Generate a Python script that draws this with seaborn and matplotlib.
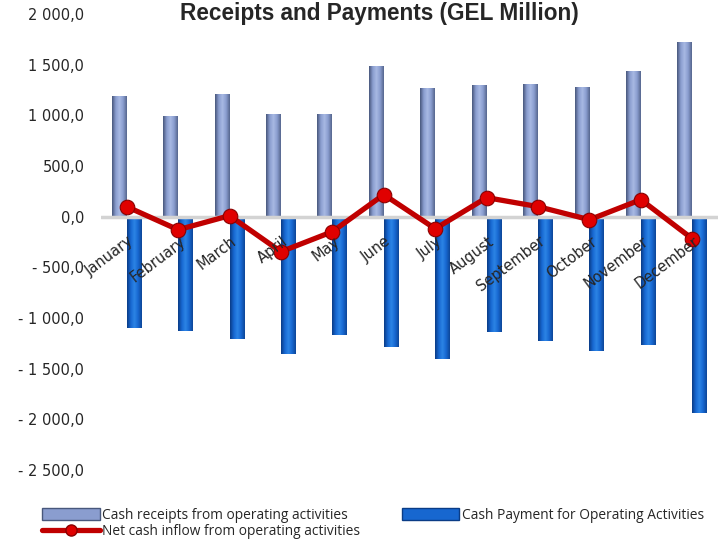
import numpy as np
import pandas as pd
import matplotlib
matplotlib.use("Agg")
import matplotlib.pyplot as plt
from matplotlib.colors import LinearSegmentedColormap
from matplotlib.patches import Patch
from matplotlib.lines import Line2D
import matplotlib.transforms as mtransforms
import seaborn as sns

months = ["January", "February", "March", "April", "May", "June", "July",
          "August", "September", "October", "November", "December"]
receipts = [1188, 990, 1208, 1010, 1010, 1485, 1267, 1297, 1307, 1277, 1436, 1723]
payments = [-1099, -1129, -1208, -1356, -1168, -1287, -1406, -1139, -1228, -1327, -1267, -1941]
net_inflow = [99, -129, 10, -346, -148, 218, -119, 188, 99, -30, 168, -218]

lbl_rec = "Cash receipts from operating activities"
lbl_pay = "Cash Payment for Operating Activities"
lbl_net = "Net cash inflow from operating activities"

df = pd.DataFrame({
    "month": months * 2,
    "series": [lbl_rec] * 12 + [lbl_pay] * 12,
    "value": receipts + payments,
})

sns.set_style("white")
plt.rcParams["font.family"] = ["DejaVu Sans"]

fig = plt.figure(figsize=(7.26, 5.41), dpi=100)
ax = fig.add_axes([101 / 726, 1 - 470 / 541, 617 / 726, 456 / 541])

rec_mid, rec_edge = "#8A9DCF", "#48577C"
pay_mid, pay_edge = "#1767D0", "#0A3C86"

sns.barplot(data=df, x="month", y="value", hue="series", order=months,
            hue_order=[lbl_rec, lbl_pay], palette=[rec_mid, pay_mid],
            width=0.58, dodge=True, ax=ax, legend=False, zorder=2,
            linewidth=0)

# glossy horizontal gradient on every bar
cmaps = {
    0: LinearSegmentedColormap.from_list("rec", [rec_edge, rec_mid, "#A8B9E3", rec_mid, "#56668E"]),
    1: LinearSegmentedColormap.from_list("pay", [pay_edge, pay_mid, "#2C84E6", pay_mid, "#0D4698"]),
}
grad = np.linspace(0, 1, 64).reshape(1, -1)
for k, cont in enumerate(ax.containers):
    for p in cont:
        x0, y0 = p.get_xy()
        w, h = p.get_width(), p.get_height()
        im = ax.imshow(grad, cmap=cmaps[k], extent=[x0, x0 + w, y0, y0 + h],
                       aspect="auto", zorder=2.1, interpolation="bilinear")
        im.set_clip_path(p)

# zero line
ax.axhline(0, color="#D3D3D3", lw=2.5, zorder=1.5)

# net inflow line
sns.pointplot(x=months, y=net_inflow, order=months, color="#C00000",
              markers="o", linestyles="-", linewidth=3.8, markersize=10.5,
              ax=ax, zorder=4)
for ln in ax.lines[1:]:
    ln.set_markerfacecolor("#E00000")
    ln.set_markeredgecolor("#8A0000")
    ln.set_markeredgewidth(0.8)
    ln.set_zorder(4)

ax.set_xlim(-0.5, 11.5)
ax.set_ylim(-2500, 2000)
ax.set_yticks(np.arange(-2500, 2001, 500))


def fmt(v):
    s = f"{abs(v):,.1f}".replace(",", " ").replace(".", ",")
    return ("- " + s) if v < 0 else s


ax.set_yticklabels([fmt(v) for v in np.arange(-2500, 2001, 500)], fontsize=10.5)
ax.tick_params(axis="y", length=0, pad=12)
ax.set_xticks([])
ax.set_xlabel("")
ax.set_ylabel("")
for s in ax.spines.values():
    s.set_visible(False)

# month names hang from the zero line
off = mtransforms.offset_copy(ax.transData, fig=fig, x=1, y=-17, units="dots")
for i, m in enumerate(months):
    ax.text(i, 0, m, rotation=37, ha="right", va="top", rotation_mode="anchor",
            fontsize=10.5, transform=off, zorder=5)

fig.text(379 / 726, 1 - 2 / 541, "Receipts and Payments (GEL Million)",
         ha="center", va="top", fontsize=16.3, fontweight="bold",
         family="Liberation Sans")

handles = [
    Patch(facecolor=rec_mid, edgecolor=rec_edge, linewidth=1),
    Line2D([0], [0], color="#C00000", lw=3.8, marker="o", markersize=8,
           markerfacecolor="#E00000", markeredgecolor="#8A0000"),
    Patch(facecolor=pay_mid, edgecolor=pay_edge, linewidth=1),
]
fig.legend(handles, [lbl_rec, lbl_net, lbl_pay], ncol=2, frameon=False,
           loc="upper left", bbox_to_anchor=(35 / 726, 1 - 501 / 541),
           prop={"family": "Open Sans", "size": 9.9}, handlelength=4.2,
           handleheight=0.9, handletextpad=0.2, columnspacing=3.0,
           labelspacing=0.1, borderpad=0)

fig.savefig("out.png", dpi=100)
